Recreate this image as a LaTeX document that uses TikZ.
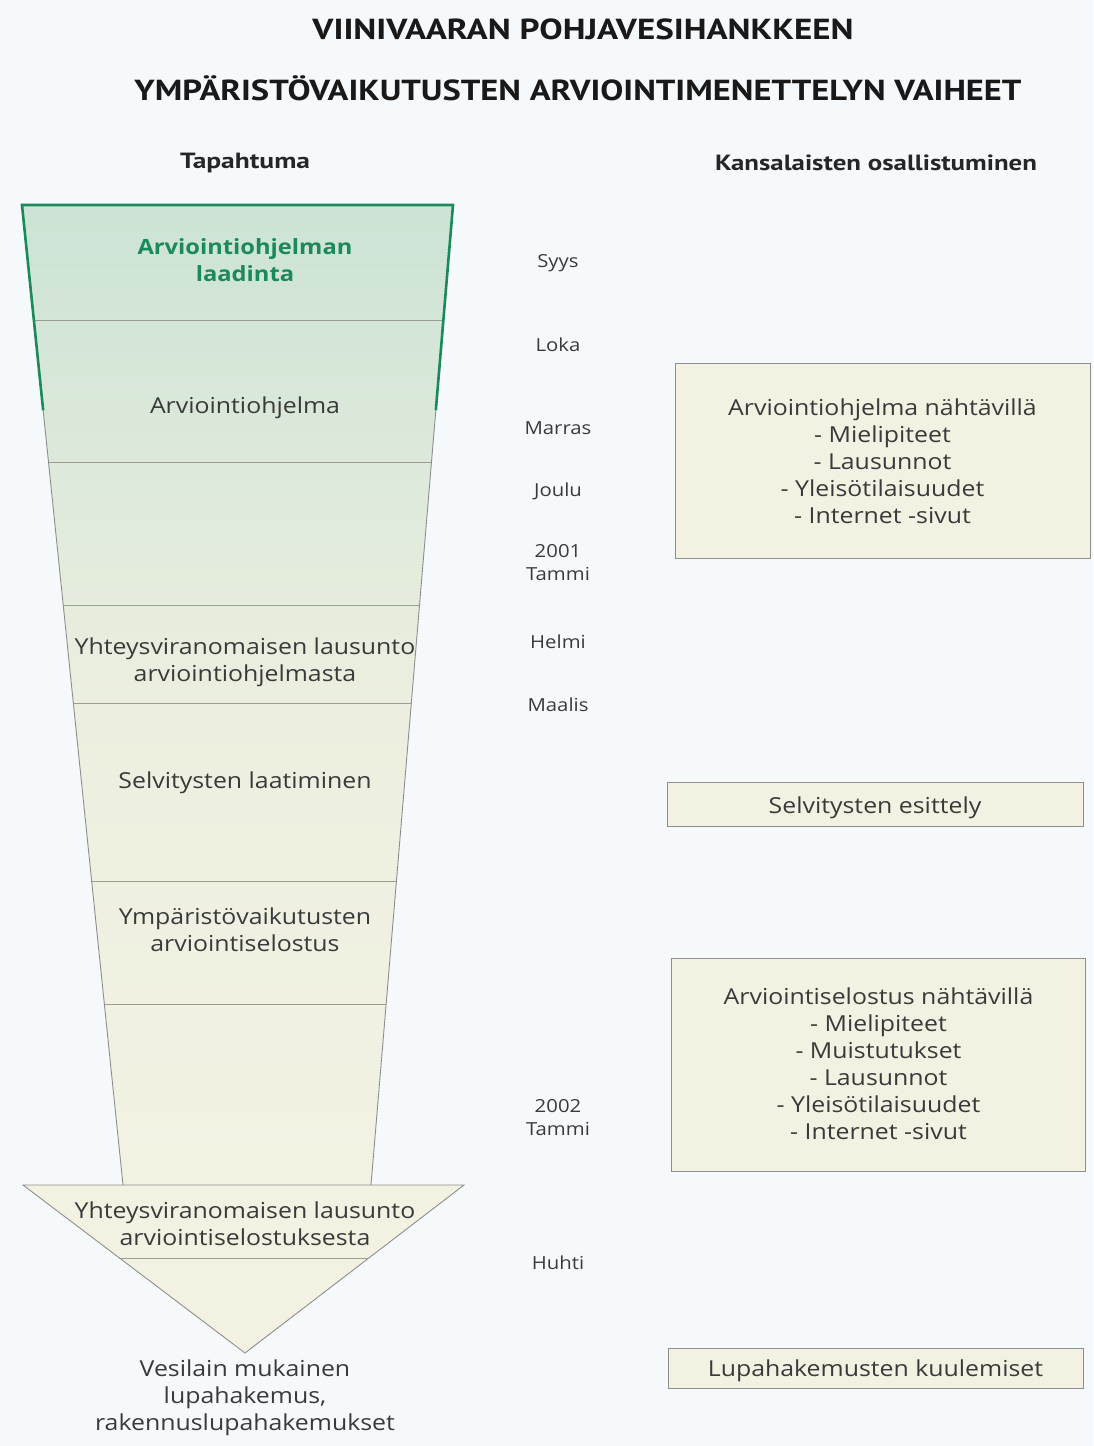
\documentclass[tikz,border=0pt]{standalone}
\usepackage{fontspec}
\setmainfont[FakeStretch=1.13]{Open Sans}
\newfontfamily\hdfont{PT Sans}
\usetikzlibrary{calc}
\definecolor{bg}{HTML}{F6F9FC}
\definecolor{gA}{HTML}{CCE3D5}
\definecolor{gB}{HTML}{ECEFDF}
\definecolor{gC}{HTML}{F2F2E3}
\definecolor{beige}{HTML}{F2F1E2}
\definecolor{edge}{HTML}{8E8E8E}
\definecolor{divl}{HTML}{9C9E90}
\definecolor{grn}{HTML}{1B8A5A}
\definecolor{txt}{HTML}{3A3A3A}
\newcommand\hfit[2]{\resizebox{#1}{\height}{#2}}
\tikzset{
  body/.style={text=txt, align=center, inner sep=0pt, yshift=-3pt, font=\fontsize{22}{27}\selectfont},
  month/.style={text=txt, align=center, inner sep=0pt, yshift=-1pt, font=\fontsize{18}{23}\selectfont},
  ttl/.style={text=black!90, inner sep=0pt, font=\hdfont\bfseries\fontsize{29}{34}\selectfont},
  hdr/.style={text=black!85, inner sep=0pt, font=\hdfont\bfseries\fontsize{22}{26}\selectfont},
  pbox/.style={draw=edge, line width=1pt, fill=beige, text=txt, align=center, inner sep=0pt, font=\fontsize{22}{27}\selectfont},
  sideline/.style={draw=edge, line width=0.9pt},
  divline/.style={draw=divl, line width=0.9pt},
}
\begin{document}
\begin{tikzpicture}[x=1pt,y=-1pt]
\fill[bg] (0,0) rectangle (1093,1446);
\useasboundingbox (0,0) rectangle (1093,1446);

% funnel corners
\coordinate (TL) at (22,205);
\coordinate (TR) at (453,205);
\coordinate (BL) at (123,1185);
\coordinate (BR) at (371,1185);

% funnel fill
\begin{scope}
\clip (TL) -- (TR) -- (BR) -- (BL) -- cycle;
\shade[top color=gA, bottom color=gB] (0,205) rectangle (480,705);
\shade[top color=gB, bottom color=gC] (0,704) rectangle (480,1186);
\end{scope}

% arrow head
\coordinate (AL) at (23,1185);
\coordinate (AR) at (464,1185);
\coordinate (AP) at (245,1353);
\filldraw[fill=beige, sideline] (AL) -- (AR) -- (AP) -- cycle;
\draw[divline] ($(AL)!0.4345!(AP)$) -- ($(AR)!0.4345!(AP)$);

% dividers
\foreach \t in {0.1176,0.2628,0.4090,0.5082,0.6902,0.8160}{
  \draw[divline] ($(TL)!\t!(BL)$) -- ($(TR)!\t!(BR)$);
}
% sides
\draw[sideline] ($(TL)!0.2096!(BL)$) -- (BL);
\draw[sideline] ($(TR)!0.2096!(BR)$) -- (BR);
% green border
\draw[grn, line width=2.6pt, line join=miter] ($(TL)!0.2096!(BL)$) -- (TL) -- (TR) -- ($(TR)!0.2096!(BR)$);

% titles
\node[ttl] (t1) at (583,29) {\hfit{541pt}{VIINIVAARAN POHJAVESIHANKKEEN}};
\node[ttl] (t2) at (578,88) {\hfit{887pt}{YMPÄRISTÖVAIKUTUSTEN ARVIOINTIMENETTELYN VAIHEET}};
\node[hdr] (hl) at (245,163) {\hfit{130pt}{Tapahtuma}};
\node[hdr] (hr) at (876,163) {\hfit{322pt}{Kansalaisten osallistuminen}};

% funnel labels
\node[body, text=grn, font=\bfseries\fontsize{21}{27}\selectfont] (f1) at (245,257) {Arviointiohjelman\\laadinta};
\node[body] (f2) at (245,405) {Arviointiohjelma};
\node[body] (f3) at (245,659) {Yhteysviranomaisen lausunto\\arviointiohjelmasta};
\node[body] (f4) at (245,780) {Selvitysten laatiminen};
\node[body] (f5) at (245,927) {Ympäristövaikutusten\\arviointiselostus};
\node[body] (f6) at (245,1221) {Yhteysviranomaisen lausunto\\arviointiselostuksesta};
\node[body] (f7) at (245,1395) {Vesilain mukainen\\lupahakemus,\\rakennuslupahakemukset};

% months
\node[month] (m1) at (558,262) {Syys};
\node[month] (m2) at (558,344) {Loka};
\node[month] (m3) at (558,427) {Marras};
\node[month] (m4) at (558,490) {Joulu};
\node[month] (m5) at (558,562) {2001\\Tammi};
\node[month] (m6) at (558,641) {Helmi};
\node[month] (m7) at (558,704) {Maalis};
\node[month] (m8) at (558,1117) {2002\\Tammi};
\node[month] (m9) at (558,1262) {Huhti};

% participation boxes
\node[pbox, minimum width=415pt, minimum height=195pt] (b1) at (882.5,460.5) {};
\node[body] (b1t) at (882.5,458) {Arviointiohjelma nähtävillä\\- Mielipiteet\\- Lausunnot\\- Yleisötilaisuudet\\- Internet -sivut};
\node[pbox, minimum width=416pt, minimum height=44pt] (b2) at (875,804) {};
\node[body] (b2t) at (875,805) {Selvitysten esittely};
\node[pbox, minimum width=414pt, minimum height=213pt] (b3) at (878.5,1065) {};
\node[body] (b3t) at (878.5,1061) {Arviointiselostus nähtävillä\\- Mielipiteet\\- Muistutukset\\- Lausunnot\\- Yleisötilaisuudet\\- Internet -sivut};
\node[pbox, minimum width=415pt, minimum height=40pt] (b4) at (875.5,1368) {};
\node[body] (b4t) at (875.5,1368) {Lupahakemusten kuulemiset};
\end{tikzpicture}
\end{document}
